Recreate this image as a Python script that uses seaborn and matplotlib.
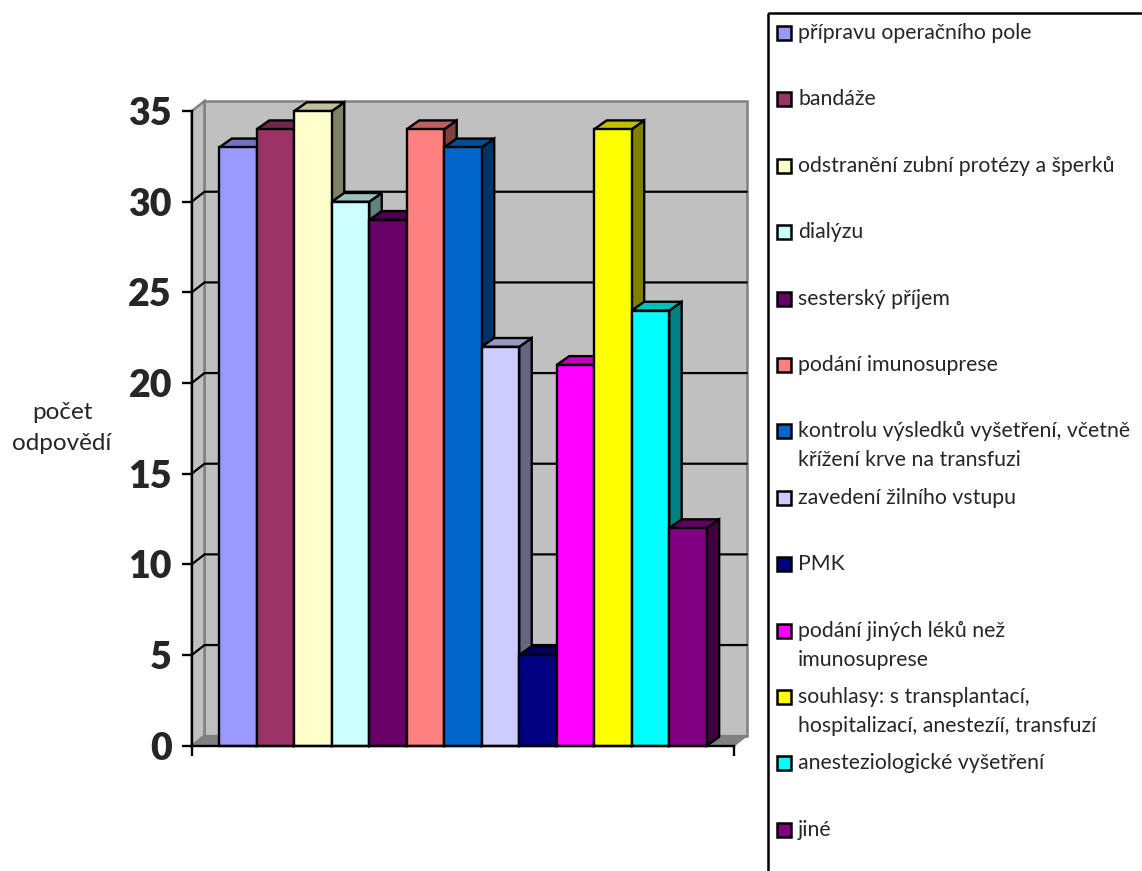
import matplotlib
matplotlib.use("Agg")
import matplotlib.pyplot as plt
from matplotlib.colors import to_rgb
from matplotlib.patches import Polygon, Rectangle
import numpy as np
import pandas as pd
import seaborn as sns

# --- data -------------------------------------------------------------------
categories = [
    "přípravu operačního pole",
    "bandáže",
    "odstranění zubní protézy a šperků",
    "dialýzu",
    "sesterský příjem",
    "podání imunosuprese",
    "kontrolu výsledků vyšetření, včetně\nkřížení krve na transfuzi",
    "zavedení žilního vstupu",
    "PMK",
    "podání jiných léků než\nimunosuprese",
    "souhlasy: s transplantací,\nhospitalizací, anestezíí, transfuzí",
    "anesteziologické vyšetření",
    "jiné",
]
values = [33, 34, 35, 30, 29, 34, 33, 22, 5, 21, 34, 24, 12]
colors = ["#9999FF", "#993366", "#FFFFCC", "#CCFFFF", "#660066", "#FF8080",
          "#0066CC", "#CCCCFF", "#000080", "#FF00FF", "#FFFF00", "#00FFFF",
          "#800080"]
y_ticks = [0, 5, 10, 15, 20, 25, 30, 35]
y_label_lines = ["počet", "odpovědí"]

# --- style ------------------------------------------------------------------
sns.set_style("white")
plt.rcParams["font.family"] = ["Lato", "DejaVu Sans"]

W, H, DPI = 1142, 871, 100
fig = plt.figure(figsize=(W / DPI, H / DPI), dpi=DPI)
fig.patch.set_facecolor("white")


def frac_box(left, top, right, bottom):
    return [left / W, 1 - bottom / H, (right - left) / W, (bottom - top) / H]


ax_left, ax_top, ax_right, ax_bottom = 191.7, 111.1, 734.0, 745.7
ax = fig.add_axes(frac_box(ax_left, ax_top, ax_right, ax_bottom))
ax.patch.set_alpha(0)

df = pd.DataFrame({"kategorie": categories, "pocet": values})
sns.barplot(data=df, x="kategorie", y="pocet", hue="kategorie",
            palette=colors, saturation=1, width=1.0, errorbar=None,
            edgecolor="black", linewidth=1.7, legend=False, ax=ax)

bars = sorted([p for p in ax.patches if isinstance(p, Rectangle)],
              key=lambda p: p.get_x())

xl, xr = -1.236, 13.229
ymax = 35
ax.set_xlim(xl, xr)
ax.set_ylim(0, ymax)

# pixel -> data conversion for the oblique depth
px_x = (xr - xl) / (ax_right - ax_left)
px_y = ymax / (ax_bottom - ax_top)
wdx, wdy = 12.8 * px_x, 10.0 * px_y     # wall depth
bdx, bdy = 12.5 * px_x, 8.8 * px_y      # bar depth

WALL = "#C0C0C0"
WALL_EDGE = "#808080"

# back wall, side wall and floor
ax.add_patch(Rectangle((xl + wdx, wdy), xr - xl, ymax, facecolor=WALL,
                       edgecolor=WALL_EDGE, lw=1.8, zorder=0.2, clip_on=False))
ax.add_patch(Polygon([(xl, 0), (xl + wdx, wdy), (xl + wdx, ymax + wdy), (xl, ymax)],
                     closed=True, facecolor=WALL, edgecolor=WALL_EDGE, lw=1.8,
                     zorder=0.3, clip_on=False))
ax.add_patch(Polygon([(xl, 0), (xr, 0), (xr + wdx, wdy), (xl + wdx, wdy)],
                     closed=True, facecolor=WALL_EDGE, edgecolor=WALL_EDGE, lw=1.2,
                     zorder=0.3, clip_on=False))

# gridlines across the side wall and the back wall
for v in y_ticks[1:-1]:
    ax.plot([xl, xl + wdx, xr + wdx], [v, v + wdy, v + wdy], color="black",
            lw=1.6, zorder=0.5, clip_on=False, solid_joinstyle="miter")


def shade(c, f):
    return tuple(np.array(to_rgb(c)) * f)


# extruded bars: right side and top faces drawn behind the next bar's front
for i, p in enumerate(bars):
    x0, w, h = p.get_x(), p.get_width(), p.get_height()
    fc = p.get_facecolor()[:3]
    base = 2 + 3 * i
    side = Polygon([(x0 + w, 0), (x0 + w + bdx, bdy), (x0 + w + bdx, h + bdy), (x0 + w, h)],
                   closed=True, facecolor=shade(fc, 0.5), edgecolor="black",
                   lw=1.7, zorder=base, clip_on=False)
    top = Polygon([(x0, h), (x0 + w, h), (x0 + w + bdx, h + bdy), (x0 + bdx, h + bdy)],
                  closed=True, facecolor=shade(fc, 0.75), edgecolor="black",
                  lw=1.7, zorder=base + 1, clip_on=False)
    ax.add_patch(side)
    ax.add_patch(top)
    p.set_zorder(base + 2)
    p.set_clip_on(False)

# axes lines and ticks
for s in ("top", "right"):
    ax.spines[s].set_visible(False)
for s in ("left", "bottom"):
    ax.spines[s].set_linewidth(1.7)
    ax.spines[s].set_color("black")
    ax.spines[s].set_zorder(60)
ax.set_yticks(y_ticks)
ax.set_yticklabels([str(t) for t in y_ticks], fontweight="heavy", fontsize=27)
ax.tick_params(axis="y", direction="out", length=7.2, width=1.7, pad=7.0,
               color="black", left=True)
ax.set_xticks([xl, xr], labels=["", ""])
ax.tick_params(axis="x", direction="out", length=7.2, width=1.7, color="black",
               bottom=True)
ax.set_xlabel("")
ax.set_ylabel("")

# overlay in pixel coordinates for the axis title and the legend
lax = fig.add_axes([0, 0, 1, 1])
lax.set_xlim(0, W)
lax.set_ylim(H, 0)
lax.axis("off")
lax.patch.set_alpha(0)

for k, line in enumerate(y_label_lines):
    lax.text(62, 412 + 31 * k, line, fontsize=17.5, ha="center", va="center")

lax.add_patch(Rectangle((768.3, 13.3), 600, 900, fill=False, edgecolor="black",
                        lw=1.8, clip_on=True))
leg_y0, leg_step, line_step = 33.0, 66.4, 29.0
for i, (label, c) in enumerate(zip(categories, colors)):
    y = leg_y0 + leg_step * i
    lax.add_patch(Rectangle((777.0, y - 7.0), 14.0, 14.0, facecolor=c,
                            edgecolor="black", lw=1.8))
    for k, line in enumerate(label.split("\n")):
        lax.text(798, y + line_step * k, line, fontsize=15.3, ha="left",
                 va="center")

fig.savefig("out.png", dpi=DPI)
